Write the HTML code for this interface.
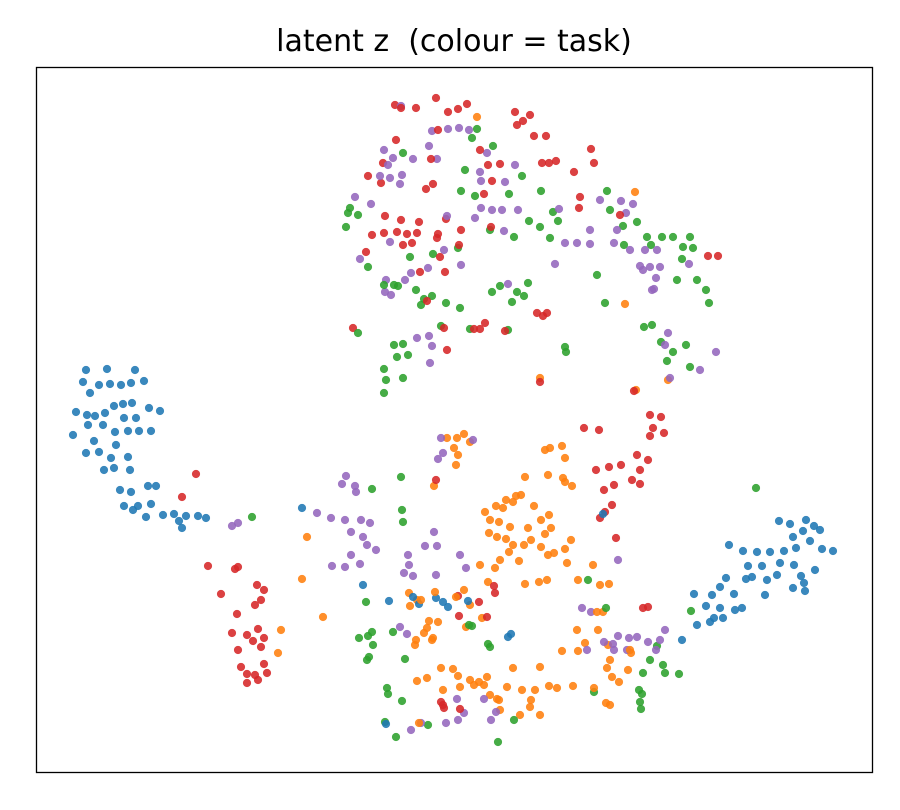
<!DOCTYPE html>
<html><head><meta charset="utf-8"><style>
html,body{margin:0;padding:0;background:#fff;width:900px;height:810px;overflow:hidden}
svg text{font-family:"DejaVu Sans","Liberation Sans",sans-serif}
</style></head><body>
<svg id="chart" width="900" height="810">
<rect x="0" y="0" width="900" height="810" fill="#fff"/>
<text x="454" y="51" font-size="30" text-anchor="middle" fill="#000" style="white-space:pre">latent z  (colour = task)</text>
<g id="points"></g>
<rect x="36.5" y="67.5" width="836" height="705" fill="none" stroke="#000" stroke-width="1.3"/>
</svg>
<script>
const taskNames = ["task-blue","task-red","task-green","task-purple","task-orange"];
const taskColors = ["#1f77b4","#d62728","#2ca02c","#9467bd","#ff7f0e"];
const blueTask = [[86,370],[107,369],[83,382],[99,385],[110,384],[121,385],[131,383],[144,381],[135,370],[90,393],[76,412],[87,415],[95,416],[105,413],[114,406],[123,404],[132,403],[149,408],[160,411],[124,418],[136,418],[73,435],[88,425],[103,425],[115,432],[128,431],[139,431],[151,431],[94,441],[116,445],[86,453],[99,452],[111,458],[128,457],[104,470],[114,468],[130,470],[120,490],[131,492],[148,486],[156,486],[124,506],[138,506],[151,504],[163,515],[174,514],[133,510],[146,517],[179,521],[186,516],[182,528],[198,516],[206,518],
[779,521],[790,524],[806,520],[814,526],[803,531],[793,537],[820,530],[833,551],[822,549],[810,541],[796,548],[784,551],[729,545],[743,551],[757,552],[770,552],[748,566],[762,566],[780,563],[794,565],[801,576],[815,570],[804,583],[793,588],[805,591],[726,578],[746,579],[752,577],[767,580],[777,575],[765,595],[720,587],[734,594],[712,595],[694,594],[706,606],[720,608],[742,608],[735,610],[723,618],[710,622],[697,625],[714,618],[682,640],
[302,508],[363,585],[413,597],[419,604],[436,598],[443,602],[448,607],[468,601],[508,637],[511,634],[386,724],[603,514],[389,601]];
const redTask = [[395,105],[401,108],[436,98],[448,112],[458,109],[467,104],[396,140],[383,163],[368,176],[381,183],[385,216],[384,233],[372,235],[366,252],[353,328],[401,220],[397,232],[407,234],[417,233],[403,245],[412,243],[419,222],[426,189],[433,184],[438,234],[437,238],[446,219],[461,230],[459,245],[440,257],[420,272],[445,272],[427,301],[444,328],[447,350],[474,329],[480,329],[485,323],[505,331],[537,313],[543,316],[547,313],[491,227],[480,150],[492,181],[517,125],[523,121],[530,115],[534,136],[546,136],[549,163],[515,112],[556,161],[591,149],[594,163],[574,172],[580,197],[708,256],[718,256],[438,130],[484,194],[488,165],[500,164],[542,163],[540,382],[579,208],[620,215],[416,108],[431,159],
[584,428],[599,430],[596,470],[609,467],[614,485],[632,480],[621,465],[637,455],[648,460],[640,470],[640,484],[650,436],[653,428],[664,433],[661,417],[650,415],[634,391],[604,490],[612,505],[605,512],[616,538],[600,518],[648,607],[436,480],
[196,474],[182,497],[238,567],[235,569],[208,566],[221,594],[257,585],[264,590],[261,600],[255,605],[237,614],[232,633],[247,635],[258,629],[264,638],[253,641],[238,650],[261,647],[241,667],[264,664],[247,674],[255,675],[267,673],[247,683],[258,680],
[441,702],[444,708],[443,705],[459,616],[494,586],[495,593],[479,602],[458,596],[487,617],[460,709],[643,608]];
const greenTask = [[403,153],[477,129],[472,138],[493,146],[465,170],[461,191],[475,196],[509,194],[522,176],[541,191],[553,212],[558,221],[529,221],[514,237],[540,227],[550,238],[490,230],[458,248],[410,257],[433,254],[432,296],[416,290],[424,299],[421,305],[398,286],[446,303],[460,308],[492,292],[500,286],[517,292],[524,296],[528,283],[512,302],[441,326],[470,329],[508,330],[565,347],[566,352],[605,303],[597,275],[607,191],[610,210],[623,226],[624,245],[637,222],[647,237],[651,245],[662,237],[673,237],[683,247],[690,237],[693,248],[682,259],[677,280],[697,280],[706,290],[709,303],[644,327],[652,325],[661,342],[673,352],[686,345],[690,367],[667,361],[408,355],[397,357],[394,345],[384,369],[386,380],[403,378],[384,393],[358,333],[346,227],[348,213],[358,215],[368,267],[350,208],[384,285],[394,285],[403,344],
[252,517],[372,489],[401,477],[402,510],[403,522],[366,602],[359,638],[368,636],[372,632],[373,645],[367,660],[369,657],[405,659],[387,688],[388,694],[402,701],[385,722],[396,737],[428,725],[469,625],[472,626],[498,742],[393,632],[488,644],[514,720],[490,647],[606,608],[588,580],[594,692],[639,690],[642,694],[641,709],[657,646],[650,660],[663,665],[679,674],[665,673],[691,611],[756,488],[643,673],[640,702]];
const purpleTask = [[401,106],[432,131],[448,129],[459,128],[469,130],[429,146],[437,159],[413,159],[384,150],[393,158],[388,165],[380,176],[390,178],[400,184],[402,175],[371,204],[355,197],[480,172],[487,153],[481,181],[505,182],[515,165],[502,210],[518,210],[481,208],[475,218],[447,216],[390,242],[360,259],[386,280],[385,292],[405,280],[391,295],[411,273],[444,250],[428,268],[461,265],[429,336],[432,346],[430,363],[417,338],[559,209],[565,243],[577,243],[590,230],[590,244],[600,200],[621,201],[633,204],[626,213],[617,230],[614,243],[630,250],[645,250],[657,250],[643,270],[650,267],[656,278],[660,267],[689,264],[652,290],[640,266],[665,345],[668,333],[700,370],[670,378],[716,352],[654,289],[555,264],[508,284],[492,210],[504,231],
[438,459],[441,438],[473,440],[443,453],[346,476],[355,486],[356,492],[342,484],[232,526],[238,523],[317,513],[331,518],[345,520],[351,532],[361,520],[370,523],[363,537],[367,545],[376,550],[351,555],[345,567],[332,566],[360,564],[408,555],[425,546],[437,546],[404,573],[409,565],[413,576],[436,575],[460,555],[466,568],[434,532],[400,627],[407,634],[421,723],[411,730],[457,699],[464,713],[458,720],[446,723],[491,720],[496,712],[484,699],[618,560],[587,650],[591,612],[613,644],[618,636],[629,638],[637,637],[604,642],[660,640],[665,630],[648,642],[656,650],[627,650],[614,650],[582,608]];
const orangeTask = [[477,117],[635,192],[625,304],[668,380],[540,378],[636,390],[447,438],[457,438],[464,434],[470,442],[454,448],[458,455],[456,465],[545,450],[550,448],[562,446],[565,458],[548,475],[563,478],[565,482],[572,486],[525,477],[506,500],[516,496],[513,502],[521,495],[503,508],[496,506],[485,512],[490,520],[499,522],[489,533],[497,537],[506,539],[513,545],[509,552],[510,527],[528,528],[534,506],[541,520],[549,515],[551,528],[541,547],[548,555],[531,540],[524,545],[545,534],[571,540],[565,549],[554,553],[578,580],[547,580],[539,582],[525,584],[519,561],[500,560],[495,568],[480,565],[488,582],[464,590],[434,486],
[409,593],[417,600],[410,606],[429,621],[438,622],[427,628],[424,633],[432,640],[416,640],[415,645],[433,638],[470,605],[482,618],[466,627],[453,669],[441,668],[458,676],[470,680],[479,682],[460,687],[487,677],[474,685],[484,685],[490,695],[497,699],[507,687],[513,668],[522,690],[535,690],[549,686],[540,667],[557,688],[573,686],[520,715],[540,715],[530,707],[500,710],[443,690],[427,678],[417,681],[562,651],[578,651],[585,643],[600,585],[609,584],[603,612],[598,630],[608,645],[610,660],[607,668],[612,677],[619,682],[628,670],[631,653],[606,703],[610,705],[594,688],[577,630],[567,563],[593,565],[597,612],[307,537],[302,579],[323,617],[281,630],[278,653],[419,723],[531,700],[499,700],[630,650],[421,600],[435,592],[456,597]];
const taskData = [blueTask, redTask, greenTask, purpleTask, orangeTask];

const X0=36, X1=873, Y0=67, Y1=773;
const xMin=36, xMax=873, yMin=67, yMax=773;
function xScale(v){return X0+(v-xMin)*(X1-X0)/(xMax-xMin);}
function yScale(v){return Y0+(v-yMin)*(Y1-Y0)/(yMax-yMin);}

const NS="http://www.w3.org/2000/svg";
const layer=document.getElementById('points');
const order=[0,4,2,1,3];
const maxLen=Math.max(...taskData.map(a=>a.length));
for(let i=0;i<maxLen;i++){
  for(const t of order){
    const p=taskData[t][i];
    if(!p) continue;
    const c=document.createElementNS(NS,'circle');
    c.setAttribute('cx',xScale(p[0]));
    c.setAttribute('cy',yScale(p[1]));
    c.setAttribute('r',4.1);
    c.setAttribute('fill',taskColors[t]);
    c.setAttribute('fill-opacity',0.88);
    
    
    layer.appendChild(c);
  }
}
</script>
</body></html>
